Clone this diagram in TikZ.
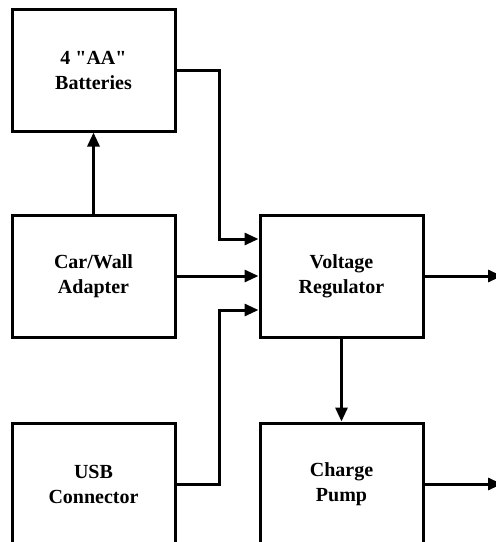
\documentclass[tikz,border=0pt]{standalone}
\usepackage{fontspec}
\setmainfont{Liberation Serif}[Ligatures=TeXOff]
\usepackage{tikz}
\usetikzlibrary{arrows.meta,calc}

\tikzset{
  block/.style={draw,line width=3pt,minimum width=163pt,minimum height=122pt,
    align=center,font=\fontsize{20}{25}\selectfont\bfseries,inner sep=0pt},
  conn/.style={line width=3pt,-{Triangle[length=14pt,width=12pt]}}
}

\begin{document}
\begin{tikzpicture}[x=1pt,y=-1pt]
\useasboundingbox (0,0) rectangle (496,542);
% Left column
\node[block] (bat) at (93.5,70) {4 "AA"\\Batteries};
\node[block] (car) at (93.5,276) {Car/Wall\\Adapter};
\node[block] (usb) at (93.5,484) {USB\\Connector};
% Right column
\node[block] (reg) at (341.5,276) {Voltage\\Regulator};
\node[block] (pump) at (341.5,484) {Charge\\Pump};
\coordinate (out1) at (502,276);
\coordinate (out2) at (502,484);

% Connections
\draw[conn] (car.north) -- (bat.south);
\draw[conn] (bat.east) -- ++(43,0) |- ([yshift=37pt]reg.west);
\draw[conn] (car.east) -- (reg.west);
\draw[conn] (usb.east) -- ++(43,0) |- ([yshift=-34pt]reg.west);
\draw[conn] (reg.south) -- (pump.north);
\draw[conn] (reg.east) -- (out1);
\draw[conn] (pump.east) -- (out2);
\end{tikzpicture}
\end{document}
